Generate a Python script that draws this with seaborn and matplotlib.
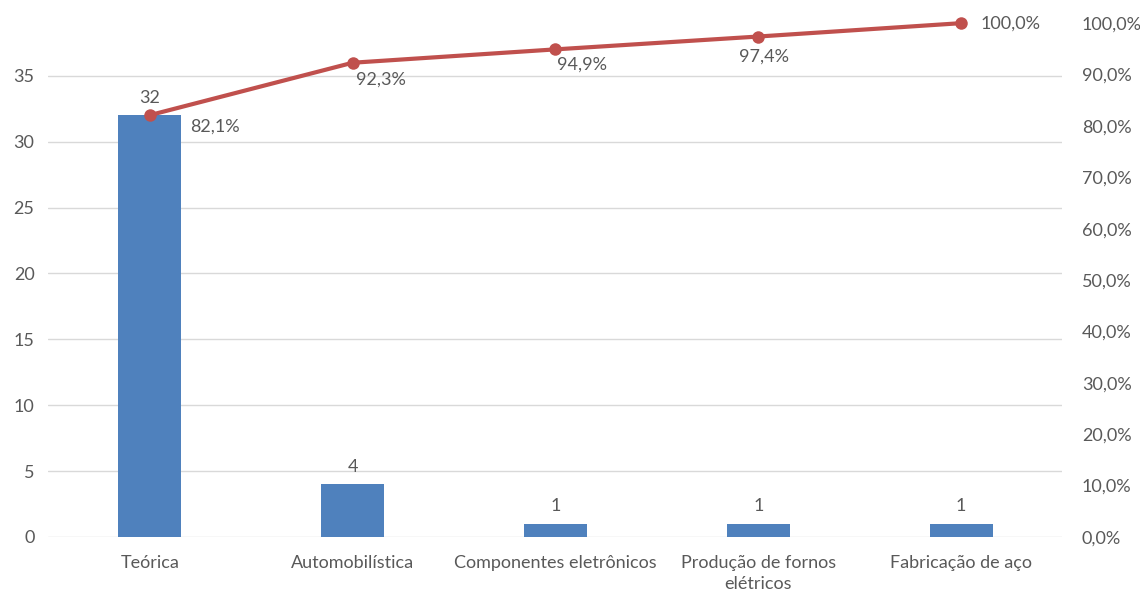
import matplotlib
matplotlib.use('Agg')
import matplotlib.pyplot as plt
import numpy as np
import pandas as pd
import seaborn as sns
from matplotlib.ticker import FuncFormatter

###
categorias = ['Teórica', 'Automobilística', 'Componentes eletrônicos',
              'Produção de fornos\nelétricos', 'Fabricação de aço']
contagem = [32, 4, 1, 1, 1]
acumulado = [82.1, 92.3, 94.9, 97.4, 100.0]
###
# posicao dos rotulos da linha (pixels, em relacao ao ponto)
offsets = [(40, -11), (3, -17), (2, -15), (-19, -20), (19, 0)]

df = pd.DataFrame({'cat': categorias, 'n': contagem, 'acum': acumulado})
df['pos'] = range(len(df))

sns.set_theme(style='white')
plt.rcParams['font.family'] = ['Lato', 'DejaVu Sans']
cinza = '#595959'
fs = 13

fig = plt.figure(figsize=(11.4, 5.94), dpi=100)
ax = fig.add_axes([0.0425, 0.096, 0.8895, 0.865])

sns.barplot(data=df, x='cat', y='n', color='#4F81BD', saturation=1,
            width=0.31, ax=ax, zorder=2, edgecolor='none', linewidth=0)
ax.set_ylim(0, 39)
ax.set_yticks(range(0, 36, 5))
ax.grid(axis='y', color='#D9D9D9', linewidth=1, zorder=0)
ax.set_axisbelow(True)
ax.set_xlim(-0.5, len(df) - 0.5)
ax.set_xlabel('')
ax.set_ylabel('')
for s in ax.spines.values():
    s.set_visible(False)
ax.tick_params(axis='y', length=0, pad=10, labelsize=fs, labelcolor=cinza)
ax.tick_params(axis='x', length=0, pad=13, labelsize=fs, labelcolor=cinza)
for lb in ax.get_xticklabels():
    lb.set_linespacing(1.35)
ax.bar_label(ax.containers[0], labels=[str(v) for v in contagem],
             padding=7, fontsize=fs, color=cinza)

ax2 = ax.twinx()
sns.lineplot(x=df['pos'], y=df['acum'] / 100, ax=ax2, color='#C0504D',
             linewidth=3, marker='o', markersize=9, markeredgewidth=0,
             zorder=3, clip_on=False)
ax2.set_ylim(0, 1)
ax2.set_yticks(np.arange(0, 1.01, 0.1))
ax2.yaxis.set_major_formatter(FuncFormatter(lambda v, p: f'{v*100:.1f}%'.replace('.', ',')))
ax2.set_xlim(-0.5, len(df) - 0.5)
ax2.set_ylabel('')
ax2.grid(False)
for s in ax2.spines.values():
    s.set_visible(False)
ax2.tick_params(axis='y', length=0, pad=14, labelsize=fs, labelcolor=cinza)

for i, v in enumerate(acumulado):
    txt = f'{v:.1f}%'.replace('.', ',')
    ax2.annotate(txt, (i, v / 100), xytext=offsets[i], textcoords='offset pixels',
                 ha='left', va='center', fontsize=fs, color=cinza)

fig.savefig('out.png', dpi=100)
